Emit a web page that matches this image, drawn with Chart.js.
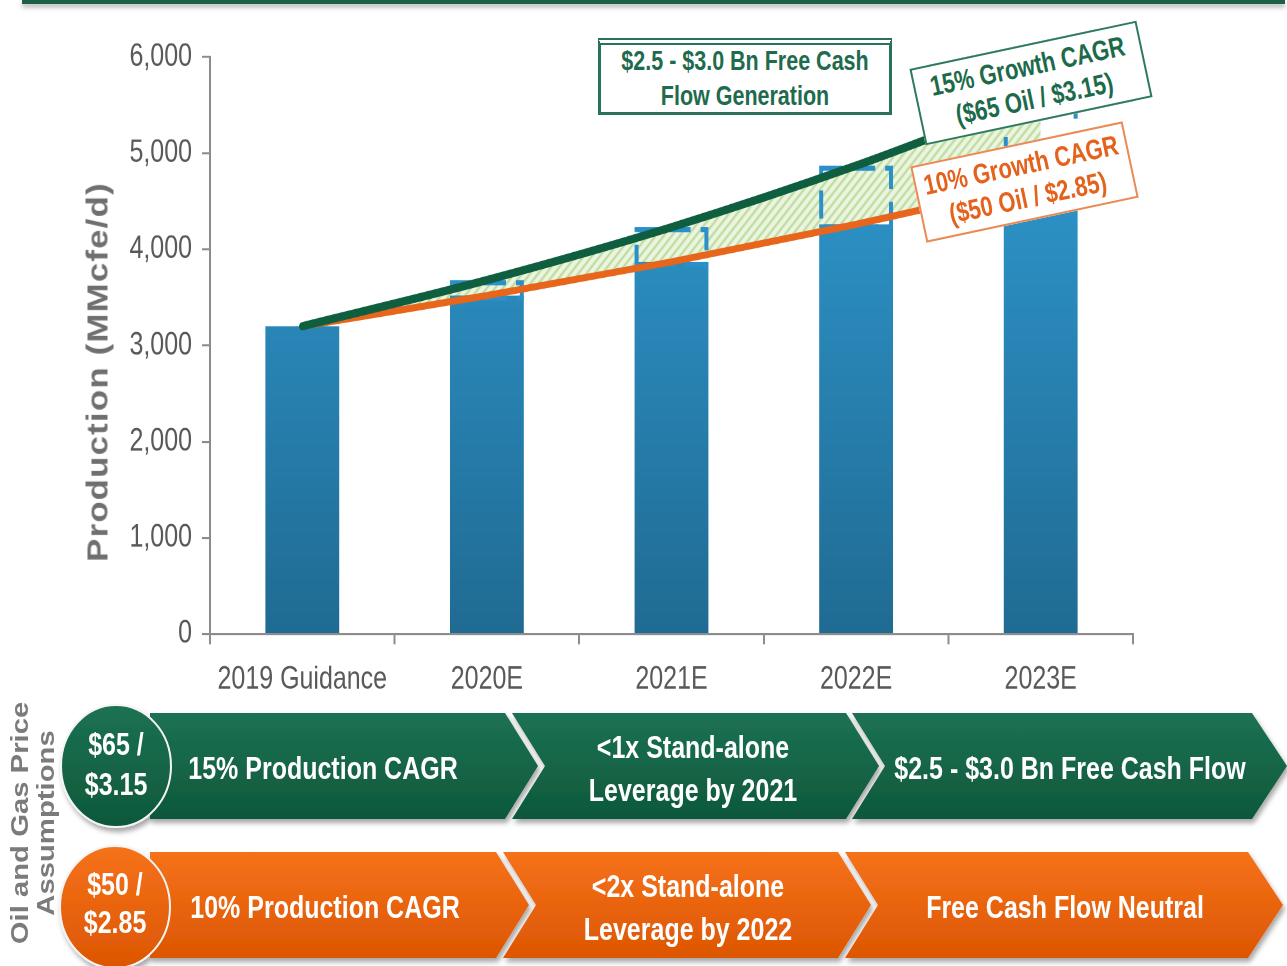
<!DOCTYPE html>
<html>
<head>
<meta charset="utf-8">
<title>Production outlook</title>
<script src="https://cdn.jsdelivr.net/npm/chart.js@4.4.1/dist/chart.umd.min.js"></script>
<style>
  html, body { margin: 0; padding: 0; background: #fff; }
  body {
    width: 1287px; height: 966px; position: relative; overflow: hidden;
    font-family: 'Liberation Sans', Arial, sans-serif;
  }
  .topbar {
    position: absolute; left: 22px; top: 0; width: 1263px; height: 4px;
    background: #1d5e44; box-shadow: 0 3px 5px rgba(0,0,0,0.35);
  }
  /* the source slide is stretched vertically, so the chart is drawn short and scaled */
  #wrap {
    position: absolute; left: 0; top: 0; width: 1287px; height: 551px;
    transform-origin: 0 0; transform: scaleY(1.28);
  }
  .ytitle {
    position: absolute; left: 98px; top: 372px;
    transform: translate(-50%, -50%) rotate(-90deg) scaleX(1.2);
    font-weight: bold; font-size: 29px; letter-spacing: 1px;
    color: #6f6f6f; white-space: nowrap;
  }
  .fcf {
    position: absolute; left: 598px; top: 38px; width: 294px; height: 77px;
    box-sizing: border-box; background: #fff;
    border: 3px solid #2a7356; border-top: 7px double #2a7356;
    color: #1f6b4d; font-weight: bold; font-size: 21.5px; line-height: 27px;
    text-align: center; display: flex; align-items: center; justify-content: center;
  }
  .fcf div, .cagr div { transform: scaleY(1.28); }
  .cagr {
    position: absolute; box-sizing: border-box; background: #fff;
    display: flex; flex-direction: column; justify-content: center; align-items: center;
    text-align: center; font-weight: bold; font-size: 22px; line-height: 26px;
    transform: rotate(-12deg); white-space: nowrap;
  }
  .cagr.high { left: 915px; top: 44px; width: 232px; height: 78px; border: 2px solid #2f7a5c; color: #1d6a4b; }
  .cagr.low  { left: 916px; top: 143px; width: 217px; height: 78px; border: 2px solid #ec8a55; color: #e4621c; }
  .side {
    position: absolute; left: 33px; top: 823px;
    transform: translate(-50%, -50%) rotate(-90deg) scaleX(1.22);
    font-weight: bold; font-size: 24px; line-height: 26px;
    color: #7b7b7b; text-align: center; white-space: nowrap;
  }
  svg.bottom { position: absolute; left: 0; top: 0; }
</style>
</head>
<body>
<div class="topbar"></div>
<div id="wrap"><canvas id="prodChart" width="1287" height="551"></canvas></div>
<div class="ytitle">Production (MMcfe/d)</div>
<div class="fcf"><div>$2.5 - $3.0 Bn Free Cash<br>Flow Generation</div></div>
<div class="cagr high"><div>15% Growth CAGR<br>($65 Oil / $3.15)</div></div>
<div class="cagr low"><div>10% Growth CAGR<br>($50 Oil / $2.85)</div></div>

<svg class="bottom" width="1287" height="966" viewBox="0 0 1287 966">
  <defs>
    <linearGradient id="gGreen" x1="0" y1="0" x2="0" y2="1">
      <stop offset="0" stop-color="#1c7253"/>
      <stop offset="1" stop-color="#0e583b"/>
    </linearGradient>
    <linearGradient id="gOrange" x1="0" y1="0" x2="0" y2="1">
      <stop offset="0" stop-color="#f6721a"/>
      <stop offset="1" stop-color="#dc5602"/>
    </linearGradient>
    <filter id="shadow" x="-10%" y="-10%" width="130%" height="140%">
      <feDropShadow dx="2" dy="4" stdDeviation="2.5" flood-color="#000" flood-opacity="0.35"/>
    </filter>
  </defs>
  <g filter="url(#shadow)">
    <polygon fill="url(#gGreen)" points="150,713 505,713 538,766 505,819 150,819"/>
    <polygon fill="url(#gGreen)" points="512,713 846,713 879,766 846,819 512,819 545,766"/>
    <polygon fill="url(#gGreen)" points="852,713 1252,713 1287,766 1252,819 852,819 885,766"/>
    <polygon fill="url(#gOrange)" points="150,852 496,852 529,905 496,958 150,958"/>
    <polygon fill="url(#gOrange)" points="503,852 838,852 871,905 838,958 503,958 536,905"/>
    <polygon fill="url(#gOrange)" points="845,852 1248,852 1283,905 1248,958 845,958 878,905"/>
    <ellipse cx="116" cy="766" rx="55" ry="61" fill="url(#gGreen)" stroke="#f4f4f4" stroke-width="2"/>
    <ellipse cx="115" cy="907" rx="55" ry="61" fill="url(#gOrange)" stroke="#f4f4f4" stroke-width="2"/>
  </g>
  <g fill="#fff" font-weight="bold" font-size="25" text-anchor="middle" dominant-baseline="central"
     font-family="'Liberation Sans', Arial, sans-serif">
    <text transform="translate(116 744) scale(1 1.28)">$65 /</text>
    <text transform="translate(116 784) scale(1 1.28)">$3.15</text>
    <text transform="translate(115 884) scale(1 1.28)">$50 /</text>
    <text transform="translate(115 922) scale(1 1.28)">$2.85</text>
    <text transform="translate(323 768) scale(1 1.28)">15% Production CAGR</text>
    <text transform="translate(693 747) scale(1 1.28)">&lt;1x Stand-alone</text>
    <text transform="translate(693 790) scale(1 1.28)">Leverage by 2021</text>
    <text transform="translate(1070 768) scale(1 1.28)">$2.5 - $3.0 Bn Free Cash Flow</text>
    <text transform="translate(325 907) scale(1 1.28)">10% Production CAGR</text>
    <text transform="translate(688 886) scale(1 1.28)">&lt;2x Stand-alone</text>
    <text transform="translate(688 929) scale(1 1.28)">Leverage by 2022</text>
    <text transform="translate(1065 907) scale(1 1.28)">Free Cash Flow Neutral</text>
  </g>
</svg>
<div class="side">Oil and Gas Price<br>Assumptions</div>

<script>
// production in MMcfe/d
const categories = ['2019 Guidance', '2020E', '2021E', '2022E', '2023E'];
const lowCase = [3200, 3520, 3870, 4260, 4690];   // 10% growth, solid bars
const highCase = [3200, 3680, 4230, 4870, 5600];  // 15% growth, dashed tops
const yTicks = [0, 1000, 2000, 3000, 4000, 5000, 6000];

const FONT = "'Liberation Sans', Arial, sans-serif";
const AXIS_GREY = '#8c8c8c';
const SY = 1.28; // vertical stretch applied to #wrap

// light green hatch between the two growth lines
function hatchPattern() {
    const p = document.createElement('canvas');
    p.width = 8; p.height = 8;
    const g = p.getContext('2d');
    g.fillStyle = '#eef6e3';
    g.fillRect(0, 0, 8, 8);
    g.strokeStyle = '#b7da93';
    g.lineWidth = 1.8;
    g.beginPath();
    g.moveTo(0, 8); g.lineTo(8, 0);
    g.moveTo(-4, 4); g.lineTo(4, -4);
    g.moveTo(4, 12); g.lineTo(12, 4);
    g.stroke();
    return g.createPattern(p, 'repeat');
}

function barGradient(ctx) {
    const area = ctx.chart.chartArea;
    if (!area) return '#2a8bc2';
    const grad = ctx.chart.ctx.createLinearGradient(0, area.top, 0, area.bottom);
    grad.addColorStop(0, '#319ed6');
    grad.addColorStop(1, '#206b93');
    return grad;
}

// outline the high-case range with a dashed box
const dashedBoxes = {
    id: 'dashedBoxes',
    afterDatasetDraw(chart, args) {
        const ds = chart.data.datasets[args.index];
        if (!ds.dashed) return;
        const c = chart.ctx;
        c.save();
        c.strokeStyle = '#2b8fca';
        c.lineWidth = 4;
        c.setLineDash([22, 10]);
        args.meta.data.forEach((bar, i) => {
            if (ds.data[i] == null) return;
            const { x, y, base, width } = bar.getProps(['x', 'y', 'base', 'width'], true);
            c.strokeRect(x - width / 2 + 2, y + 2, width - 4, base - y);
        });
        c.restore();
    }
};

const ranges = categories.map((c, i) => i === 0 ? null : [lowCase[i], highCase[i]]);

new Chart(document.getElementById('prodChart'), {
    type: 'bar',
    data: {
        labels: categories,
        datasets: [
            {
                label: 'Production',
                data: lowCase,
                backgroundColor: barGradient,
                borderWidth: 0,
                grouped: false,
                categoryPercentage: 1,
                barPercentage: 0.4,
                order: 4
            },
            {
                label: '15% case',
                data: ranges,
                dashed: true,
                backgroundColor: 'rgba(0,0,0,0)',
                borderWidth: 0,
                grouped: false,
                categoryPercentage: 1,
                barPercentage: 0.4,
                order: 3
            },
            {
                type: 'line',
                label: '15% Growth CAGR',
                data: highCase,
                borderColor: '#0e5e3f',
                borderWidth: 6.5,
                borderCapStyle: 'round',
                pointRadius: 0,
                cubicInterpolationMode: 'monotone',
                fill: '+1',
                backgroundColor: hatchPattern(),
                order: 1
            },
            {
                type: 'line',
                label: '10% Growth CAGR',
                data: lowCase,
                borderColor: '#e8661c',
                borderWidth: 5.5,
                borderCapStyle: 'round',
                pointRadius: 0,
                cubicInterpolationMode: 'monotone',
                fill: false,
                order: 2
            }
        ]
    },
    options: {
        responsive: false,
        animation: false,
        devicePixelRatio: 2,
        layout: { padding: { left: 125, right: 154, top: 57 / SY, bottom: 0 } },
        plugins: {
            legend: { display: false },
            tooltip: { enabled: false },
            filler: { drawTime: 'beforeDatasetsDraw' }
        },
        scales: {
            x: {
                offset: true,
                grid: { drawOnChartArea: false, tickLength: 8, color: AXIS_GREY, lineWidth: 2 },
                border: { color: AXIS_GREY, width: 1.6 },
                ticks: {
                    color: '#595959', font: { family: FONT, size: 25 }, padding: 13,
                    maxRotation: 0, autoSkip: false
                },
                afterFit: s => { s.height = 551 - 634 / SY; }
            },
            y: {
                min: 0,
                max: 6000,
                afterBuildTicks: s => { s.ticks = yTicks.map(v => ({ value: v })); },
                grid: { drawOnChartArea: false, tickLength: 8, color: AXIS_GREY, lineWidth: 1.6 },
                border: { color: AXIS_GREY, width: 2 },
                ticks: {
                    color: '#595959',
                    font: { family: FONT, size: 25 },
                    padding: 10,
                    callback: v => v.toLocaleString('en-US')
                },
                afterFit: s => { s.width = 85; }
            }
        }
    },
    plugins: [dashedBoxes]
});
</script>
</body>
</html>
